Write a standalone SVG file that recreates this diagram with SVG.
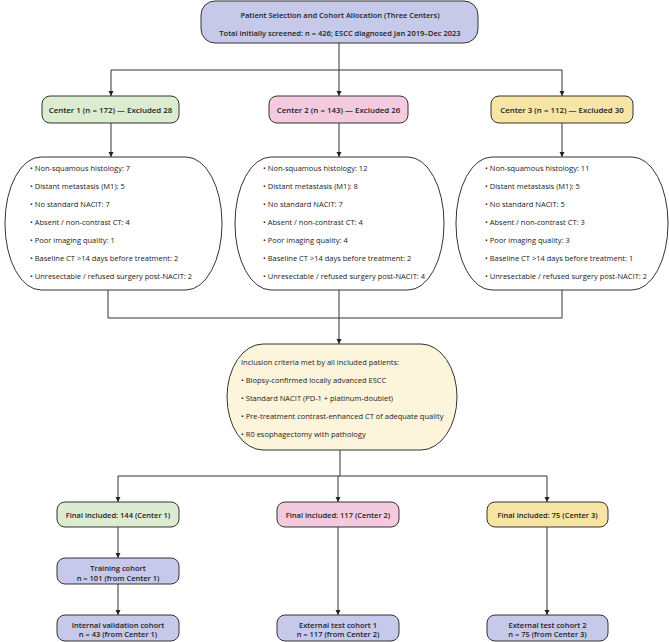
<svg xmlns="http://www.w3.org/2000/svg" width="669" height="642" viewBox="0 0 669 642">
<defs>
<marker id="ah" viewBox="0 0 10 10" refX="10" refY="5" markerWidth="5" markerHeight="6" orient="auto" markerUnits="userSpaceOnUse">
<path d="M0,0 L10,5 L0,10 z" fill="#222"/>
</marker>
<style>
text{font-family:"Open Sans","Noto Sans","Liberation Sans",sans-serif;fill:#222;font-size:7.5px}
.b{font-weight:600}
.c{text-anchor:middle}
.h{font-size:7.9px}
.box{stroke:#333;stroke-width:1}
.lav{fill:#c6c9ea}
.grn{fill:#dcecd0}
.pnk{fill:#f4cade}
.yel{fill:#f6e5a4}
.cre{fill:#fdf4dc}
.wht{fill:#fff}
.ln{fill:none;stroke:#333;stroke-width:1}
</style>
</defs>
<rect width="669" height="642" fill="#fff"/>

<g id="connectors">
<path class="ln" d="M339,43 V70"/>
<path class="ln" d="M111,70 H562"/>
<path class="ln" d="M111,70 V96" marker-end="url(#ah)"/>
<path class="ln" d="M339,70 V96" marker-end="url(#ah)"/>
<path class="ln" d="M562,70 V96" marker-end="url(#ah)"/>
<path class="ln" d="M111,123 V157" marker-end="url(#ah)"/>
<path class="ln" d="M339,123 V157" marker-end="url(#ah)"/>
<path class="ln" d="M562,123 V157" marker-end="url(#ah)"/>
<path class="ln" d="M108,290 V318 H562 V290"/>
<path class="ln" d="M339,290 V344" marker-end="url(#ah)"/>
<path class="ln" d="M340,450 V476"/>
<path class="ln" d="M118,476 H547"/>
<path class="ln" d="M118,476 V502" marker-end="url(#ah)"/>
<path class="ln" d="M338,476 V502" marker-end="url(#ah)"/>
<path class="ln" d="M547,476 V502" marker-end="url(#ah)"/>
<path class="ln" d="M118,527 V558" marker-end="url(#ah)"/>
<path class="ln" d="M118,584 V615" marker-end="url(#ah)"/>
<path class="ln" d="M338,527 V615" marker-end="url(#ah)"/>
<path class="ln" d="M547,527 V615" marker-end="url(#ah)"/>
</g>

<g id="top">
<rect class="box lav" x="201" y="1" width="277" height="42" rx="14"/>
<text class="b c" x="340" y="17.5">Patient Selection and Cohort Allocation (Three Centers)</text>
<text class="b c" x="340" y="35.5">Total initially screened: n = 426; ESCC diagnosed Jan 2019–Dec 2023</text>
</g>

<g id="center1">
<rect class="box grn" x="42" y="96" width="137" height="27" rx="8"/>
<text class="b c h" x="110.5" y="112.6">Center 1 (n = 172) — Excluded 28</text>
</g>
<g id="center2">
<rect class="box pnk" x="269" y="96" width="139" height="27" rx="8"/>
<text class="b c h" x="338.5" y="112.6">Center 2 (n = 143) — Excluded 26</text>
</g>
<g id="center3">
<rect class="box yel" x="491" y="96" width="142" height="27" rx="8"/>
<text class="b c h" x="562" y="112.6">Center 3 (n = 112) — Excluded 30</text>
</g>

<g id="excl1">
<rect class="box wht" x="5" y="157" width="217" height="133" rx="36" ry="66"/>
<text x="30" y="170.5">• Non-squamous histology: 7</text>
<text x="30" y="188.5">• Distant metastasis (M1): 5</text>
<text x="30" y="206.5">• No standard NACIT: 7</text>
<text x="30" y="224.5">• Absent / non-contrast CT: 4</text>
<text x="30" y="242.5">• Poor imaging quality: 1</text>
<text x="30" y="260.5">• Baseline CT &gt;14 days before treatment: 2</text>
<text x="30" y="278.5">• Unresectable / refused surgery post-NACIT: 2</text>
</g>
<g id="excl2">
<rect class="box wht" x="235" y="157" width="209" height="133" rx="36" ry="66"/>
<text x="263" y="170.5">• Non-squamous histology: 12</text>
<text x="263" y="188.5">• Distant metastasis (M1): 8</text>
<text x="263" y="206.5">• No standard NACIT: 7</text>
<text x="263" y="224.5">• Absent / non-contrast CT: 4</text>
<text x="263" y="242.5">• Poor imaging quality: 4</text>
<text x="263" y="260.5">• Baseline CT &gt;14 days before treatment: 2</text>
<text x="263" y="278.5">• Unresectable / refused surgery post-NACIT: 4</text>
</g>
<g id="excl3">
<rect class="box wht" x="456" y="157" width="212" height="133" rx="36" ry="66"/>
<text x="485" y="170.5">• Non-squamous histology: 11</text>
<text x="485" y="188.5">• Distant metastasis (M1): 5</text>
<text x="485" y="206.5">• No standard NACIT: 5</text>
<text x="485" y="224.5">• Absent / non-contrast CT: 3</text>
<text x="485" y="242.5">• Poor imaging quality: 3</text>
<text x="485" y="260.5">• Baseline CT &gt;14 days before treatment: 1</text>
<text x="485" y="278.5">• Unresectable / refused surgery post-NACIT: 2</text>
</g>

<g id="inclusion">
<rect class="box cre" x="227" y="344" width="230" height="106" rx="36" ry="53"/>
<text x="241" y="364.5">Inclusion criteria met by all included patients:</text>
<text x="241" y="382.5">• Biopsy-confirmed locally advanced ESCC</text>
<text x="241" y="400.5">• Standard NACIT (PD-1 + platinum-doublet)</text>
<text x="241" y="418.5">• Pre-treatment contrast-enhanced CT of adequate quality</text>
<text x="241" y="436.5">• R0 esophagectomy with pathology</text>
</g>

<g id="final1">
<rect class="box grn" x="57" y="502" width="122" height="25" rx="8"/>
<text class="b c" x="118" y="517.5">Final included: 144 (Center 1)</text>
</g>
<g id="final2">
<rect class="box pnk" x="277" y="502" width="122" height="25" rx="8"/>
<text class="b c" x="338" y="517.5">Final included: 117 (Center 2)</text>
</g>
<g id="final3">
<rect class="box yel" x="487" y="502" width="121" height="25" rx="8"/>
<text class="b c" x="547.5" y="517.5">Final included: 75 (Center 3)</text>
</g>

<g id="training">
<rect class="box lav" x="57" y="558" width="122" height="26" rx="8"/>
<text class="b c" x="118" y="570.5">Training cohort</text>
<text class="b c" x="118" y="580.5">n = 101 (from Center 1)</text>
</g>
<g id="internal">
<rect class="box lav" x="57" y="615" width="122" height="26" rx="8"/>
<text class="b c" x="118" y="627.5">Internal validation cohort</text>
<text class="b c" x="118" y="637">n = 43 (from Center 1)</text>
</g>
<g id="external1">
<rect class="box lav" x="277" y="615" width="122" height="26" rx="8"/>
<text class="b c" x="338" y="627.5">External test cohort 1</text>
<text class="b c" x="338" y="637">n = 117 (from Center 2)</text>
</g>
<g id="external2">
<rect class="box lav" x="487" y="615" width="121" height="26" rx="8"/>
<text class="b c" x="547.5" y="627.5">External test cohort 2</text>
<text class="b c" x="547.5" y="637">n = 75 (from Center 3)</text>
</g>
</svg>
